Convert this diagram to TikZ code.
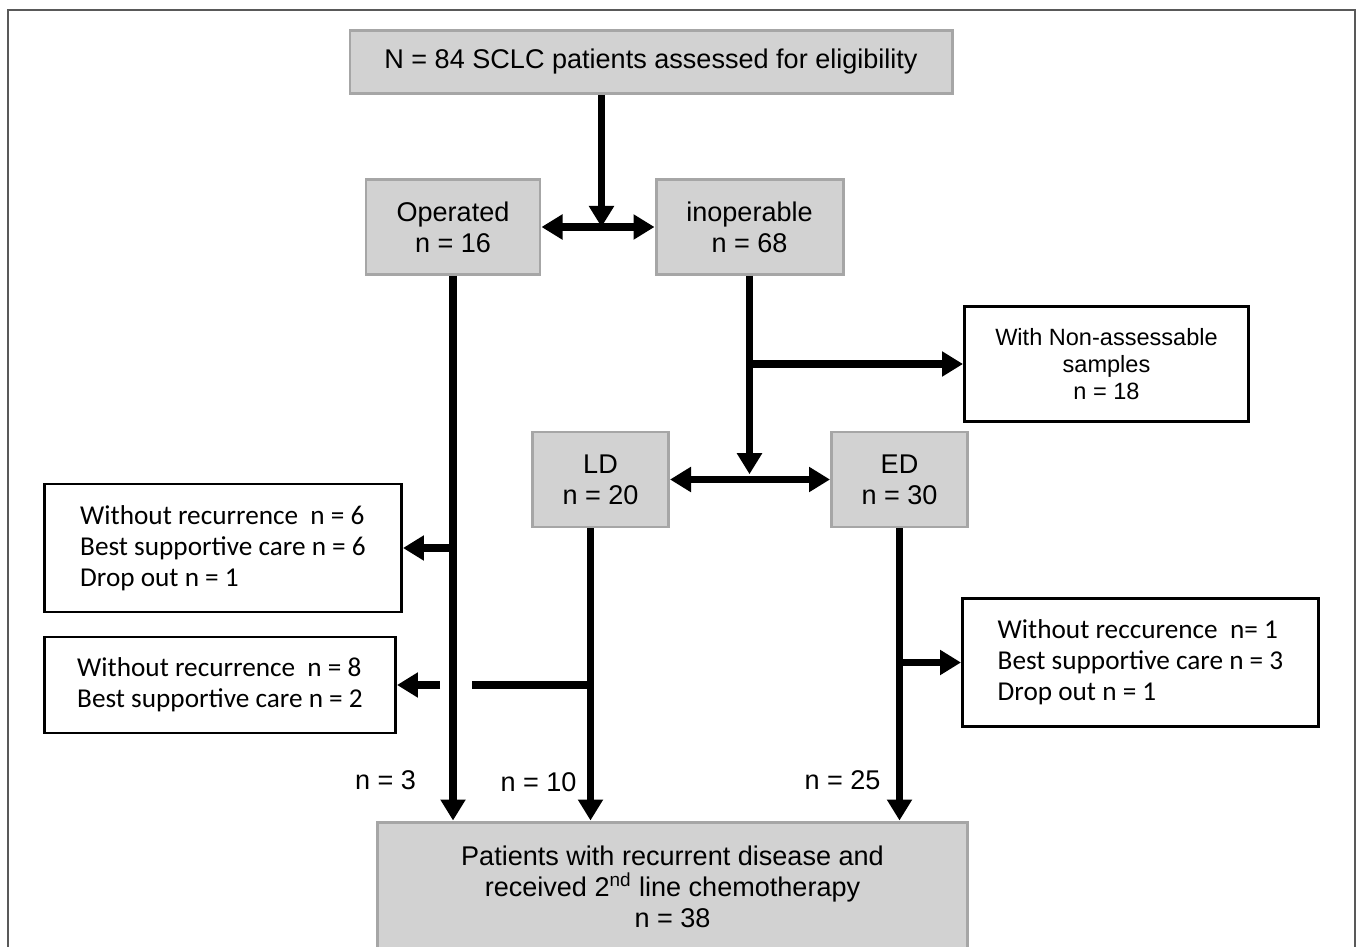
\documentclass[tikz,border=0pt]{standalone}
\usepackage{fontspec}
\setmainfont{Liberation Sans}
\newfontfamily\calibfont{Carlito}
\usetikzlibrary{arrows.meta, positioning}

\begin{document}
\begin{tikzpicture}[>={Triangle[length=0.42cm,width=0.48cm]},
    graybox/.style={draw=gray!70, fill=gray!35, line width=1.7pt, align=center, inner sep=0pt, font=\fontsize{15.4}{17.6}\selectfont},
    nabox/.style={draw=black, fill=white, line width=1.7pt, align=center, inner sep=0pt, font=\fontsize{13.4}{15.4}\selectfont},
    whitebox/.style={draw=black, fill=white, line width=1.7pt, align=left, inner sep=0pt, font=\calibfont\fontsize{15.5}{17.6}\selectfont},
    flow/.style={line width=4pt},
    lbl/.style={font=\fontsize{15.4}{17.6}\selectfont}]
            \useasboundingbox (0,0) rectangle (27.16,-18.94);
            \clip (0,0) rectangle (27.16,-18.94);
            \draw [black!65, line width=1pt] (0.16,-0.2) rectangle (27.1,-20);

            \node (top) [graybox, minimum width=12.04cm, minimum height=1.26cm] at (13.02,-1.24) {N = 84 SCLC patients assessed for eligibility};
            \node (oper) [graybox, minimum width=3.48cm, minimum height=1.9cm, node distance=3.3cm, below of=top, xshift=-3.96cm] {Operated\\n = 16};
            \node (inop) [graybox, minimum width=3.74cm, minimum height=1.9cm, node distance=5.93cm, right of=oper] {inoperable\\n = 68};
            \node (nonA) [nabox, minimum width=5.68cm, minimum height=2.3cm, node distance=2.74cm, below of=inop, xshift=7.14cm] {With Non-assessable\\samples\\n = 18};

            \node (LD) [graybox, minimum width=2.72cm, minimum height=1.9cm, node distance=5.05cm, below of=inop, xshift=-2.98cm] {LD\\n = 20};
            \node (ED) [graybox, minimum width=2.72cm, minimum height=1.9cm, node distance=5.98cm, right of=LD] {ED\\n = 30};

            \node (wr1) [whitebox, minimum width=7.14cm, minimum height=2.56cm, node distance=6.42cm, below of=oper, xshift=-4.6cm] {Without recurrence~ n = 6\\Best supportive care n = 6\\Drop out n = 1};
            \node (wr2) [whitebox, minimum width=7.02cm, minimum height=1.92cm, node distance=2.74cm, below of=wr1, xshift=-0.06cm] {Without recurrence~ n = 8\\Best supportive care n = 2};
            \node (wrED) [whitebox, minimum width=7.12cm, minimum height=2.56cm, node distance=3.66cm, below of=ED, xshift=4.82cm] {Without reccurence~ n= 1\\Best supportive care n = 3\\Drop out n = 1};

            \node (bot) [graybox, minimum width=11.8cm, minimum height=2.58cm, node distance=8.14cm, below of=LD, xshift=1.44cm] {Patients with recurrent disease and\\received 2\textsuperscript{nd} line chemotherapy\\n = 38};

            \node (nOp) [lbl, node distance=2.12cm, above of=bot, xshift=-5.74cm] {n = 3};
            \node (nLD) [lbl, node distance=2.08cm, above of=bot, xshift=-2.68cm] {n = 10};
            \node (nED) [lbl, node distance=2.12cm, above of=bot, xshift=3.4cm] {n = 25};

            \coordinate (j1) at ([xshift=1.2cm]oper.east);
            \draw [->, flow] (top.south -| j1) -- (j1);
            \draw [<->, flow] (oper.east) -- (inop.west);
            \draw [->, flow] (oper.south) -- (oper.south |- bot.north);
            \draw [->, flow] (oper.south |- wr1.east) -- (wr1.east);
            \draw [->, flow, shorten >=3pt] (inop.south) -- (inop.south |- LD.east);
            \draw [->, flow] (inop.south |- nonA.west) -- (nonA.west);
            \draw [<->, flow] (LD.east) -- (ED.west);
            \draw [->, flow] ([xshift=-0.2cm]LD.south) -- ([xshift=-0.2cm]LD.south |- bot.north);
            \draw [flow] ([xshift=-0.2cm]LD.south |- wr2.east) -- ([xshift=0.38cm]oper.south |- wr2.east);
            \draw [->, flow] ([xshift=-0.26cm]oper.south |- wr2.east) -- (wr2.east);
            \draw [->, flow] (ED.south) -- (ED.south |- bot.north);
            \draw [->, flow] (ED.south |- wrED.west) -- (wrED.west);
        \end{tikzpicture}
\end{document}
